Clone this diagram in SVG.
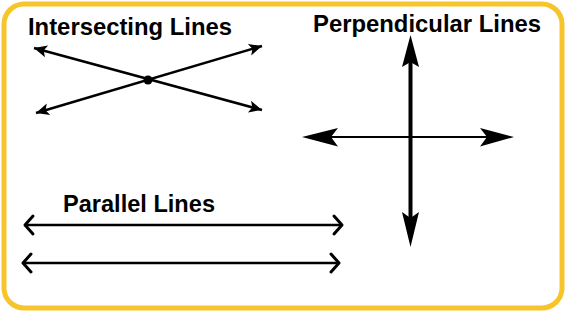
<svg xmlns="http://www.w3.org/2000/svg" width="567" height="313" viewBox="0 0 567 313">
<defs>
<style>
.t{font-family:"Liberation Sans",Arial,sans-serif;font-weight:bold;font-size:23px;fill:#000}
.ln{stroke:#000;fill:none}
.head{fill:#000}
</style>
<marker id="thin" markerUnits="userSpaceOnUse" viewBox="-14 -8 16 16" refX="0" refY="0" markerWidth="16" markerHeight="16" orient="auto-start-reverse">
<path d="M0,0 L-13,-6 L-10,0 L-13,6 Z" fill="#000"/>
</marker>
<marker id="chev" markerUnits="userSpaceOnUse" viewBox="-12 -12 16 24" refX="0" refY="0" markerWidth="16" markerHeight="24" orient="auto-start-reverse">
<path d="M-8,-9 L0,0 L-8,9" fill="none" stroke="#000" stroke-width="3" stroke-linecap="round" stroke-linejoin="round"/>
</marker>
</defs>
<rect x="4" y="4" width="558" height="304" rx="20" ry="20" fill="#fff" stroke="#F7C52B" stroke-width="5"/>
<g id="intersecting">
<text class="t" x="28" y="35" textLength="204" lengthAdjust="spacingAndGlyphs">Intersecting Lines</text>
</g>
<g id="perpendicular">
<text class="t" x="313" y="32" textLength="228" lengthAdjust="spacingAndGlyphs">Perpendicular Lines</text>
</g>
<g id="parallel">
<text class="t" x="63" y="212" textLength="152" lengthAdjust="spacingAndGlyphs">Parallel Lines</text>
</g>
<g id="connectors">
<line class="ln" x1="34" y1="48" x2="262" y2="110" stroke-width="2.5" marker-start="url(#thin)" marker-end="url(#thin)"/>
<line class="ln" x1="36" y1="113" x2="262" y2="46" stroke-width="2.5" marker-start="url(#thin)" marker-end="url(#thin)"/>
<circle cx="148" cy="80" r="4.5" fill="#000"/>
<line class="ln" x1="410.5" y1="60" x2="410.5" y2="222" stroke-width="4"/>
<path class="head" d="M410.5,35 L419,67 L410.5,62 L402,67 Z"/>
<path class="head" d="M410.5,247 L419,212 L410.5,218 L402,212 Z"/>
<line class="ln" x1="330" y1="137" x2="490" y2="137" stroke-width="2"/>
<path class="head" d="M302,137 L338,128 L331,137 L338,146.5 Z"/>
<path class="head" d="M514,137 L480,128 L487,137 L480,146.5 Z"/>
<line class="ln" x1="25" y1="225" x2="342" y2="225" stroke-width="2.5" marker-start="url(#chev)" marker-end="url(#chev)"/>
<line class="ln" x1="23" y1="263" x2="339" y2="263" stroke-width="2.5" marker-start="url(#chev)" marker-end="url(#chev)"/>
</g>
</svg>
